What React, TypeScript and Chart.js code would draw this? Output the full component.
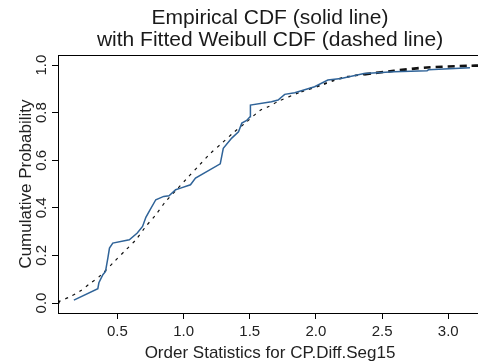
import React, { useEffect, useRef } from "react";
import { Chart, registerables } from "chart.js";

Chart.register(...registerables);

// Empirical CDF (solid line)
const empX = [0.171, 0.352, 0.36, 0.39, 0.41, 0.428, 0.44, 0.465, 0.59, 0.65, 0.69, 0.715, 0.74, 0.79, 0.85, 0.89, 0.94, 0.977, 1.052, 1.09, 1.277, 1.30, 1.364, 1.415, 1.44, 1.477, 1.502, 1.505, 1.664, 1.714, 1.764, 1.84, 1.99, 2.09, 2.19, 2.364, 2.464, 2.589, 2.84, 2.85, 3.164];
const empY = [0.012, 0.060, 0.085, 0.119, 0.133, 0.19, 0.231, 0.252, 0.266, 0.294, 0.322, 0.36, 0.385, 0.434, 0.448, 0.451, 0.476, 0.483, 0.497, 0.525, 0.585, 0.65, 0.693, 0.72, 0.756, 0.767, 0.783, 0.832, 0.846, 0.853, 0.877, 0.884, 0.909, 0.937, 0.944, 0.965, 0.968, 0.972, 0.976, 0.98, 0.989];

// Fitted Weibull CDF (dashed line)
const fitX = [0.05, 0.14, 0.215, 0.30, 0.365, 0.478, 0.565, 0.64, 0.715, 0.79, 0.865, 0.95, 1.027, 1.115, 1.2, 1.29, 1.377, 1.465, 1.58, 1.64, 1.71, 1.89, 2.04, 2.14, 2.24, 2.364, 2.59, 2.84, 3.16, 3.25];
const fitY = [0.004, 0.026, 0.049, 0.085, 0.112, 0.175, 0.224, 0.266, 0.322, 0.371, 0.427, 0.478, 0.525, 0.577, 0.627, 0.672, 0.716, 0.756, 0.81, 0.825, 0.846, 0.888, 0.916, 0.937, 0.951, 0.961, 0.976, 0.99, 0.997, 0.998];

const xTicks = [0.5, 1.0, 1.5, 2.0, 2.5, 3.0];
const yTicks = [0.0, 0.2, 0.4, 0.6, 0.8, 1.0];

const titleLines = ["Empirical CDF (solid line)", "with Fitted Weibull CDF (dashed line)"];
const xTitle = "Order Statistics for CP.Diff.Seg15";
const yTitle = "Cumulative Probability";

const FONT = "'Liberation Sans', Arial, sans-serif";

const topFrame = {
  id: "topFrame",
  afterDraw(chart: any) {
    const { ctx, chartArea } = chart;
    ctx.save();
    ctx.strokeStyle = "#000";
    ctx.lineWidth = 1;
    ctx.beginPath();
    ctx.moveTo(chartArea.left, Math.round(chartArea.top) + 0.5);
    ctx.lineTo(chartArea.right, Math.round(chartArea.top) + 0.5);
    ctx.stroke();
    ctx.restore();
  },
};

export default function App() {
  const ref = useRef<HTMLCanvasElement | null>(null);

  useEffect(() => {
    document.body.style.margin = "0";
    const canvas = ref.current!;
    const chart = new Chart(canvas, {
      type: "line",
      data: {
        datasets: [
          {
            label: "Empirical CDF",
            data: empX.map((x, i) => ({ x, y: empY[i] })),
            borderColor: "#2f6398",
            borderWidth: 1.5,
            pointRadius: 0,
            fill: false,
            tension: 0,
          },
          {
            label: "Fitted Weibull CDF",
            data: fitX.map((x, i) => ({ x, y: fitY[i] })),
            borderColor: "#111",
            borderWidth: 1.2,
            borderDash: [3, 5],
            pointRadius: (c: any) => (c.dataIndex === 0 ? 2 : 0),
            pointBackgroundColor: "#000",
            pointBorderWidth: 0,
            fill: false,
            tension: 0.3,
            segment: {
              borderWidth: (c: any) => (c.p0.parsed.x > 2.3 ? 2.6 : c.p0.parsed.x > 1.8 ? 1.8 : 1.2),
              borderDash: (c: any) => (c.p0.parsed.x > 2.3 ? [7, 5] : [3, 5]),
            },
          },
        ],
      },
      options: {
        animation: false,
        responsive: false,
        layout: { padding: 0 },
        plugins: {
          legend: { display: false },
          tooltip: { enabled: false },
          title: {
            display: true,
            text: titleLines,
            fullSize: false,
            color: "#1a1a1a",
            font: { family: FONT, size: 21, weight: "normal", lineHeight: 1.05 },
            padding: { top: 7, bottom: 4 },
          },
        },
        scales: {
          x: {
            type: "linear",
            min: 0.051,
            max: 3.255,
            afterBuildTicks: (s: any) => {
              s.ticks = xTicks.map((v) => ({ value: v }));
            },
            afterFit: (s: any) => {
              s.height = 51;
            },
            grid: { display: true, drawOnChartArea: false, drawTicks: true, tickLength: 6, color: "#000" },
            border: { display: true, color: "#000", width: 1 },
            ticks: {
              color: "#222",
              font: { family: FONT, size: 15 },
              padding: 4,
              maxRotation: 0,
              autoSkip: false,
              callback: (v: any) => Number(v).toFixed(1),
            },
            title: {
              display: true,
              text: xTitle,
              color: "#222",
              font: { family: FONT, size: 17 },
              padding: { top: 0, bottom: 0 },
            },
          },
          y: {
            type: "linear",
            min: -0.042,
            max: 1.042,
            afterBuildTicks: (s: any) => {
              s.ticks = yTicks.map((v) => ({ value: v }));
            },
            afterFit: (s: any) => {
              s.width = 58;
            },
            grid: { display: true, drawOnChartArea: false, drawTicks: true, tickLength: 6, color: "#000" },
            border: { display: true, color: "#000", width: 1 },
            ticks: {
              color: "#222",
              font: { family: FONT, size: 15 },
              padding: 0,
              minRotation: 90,
              maxRotation: 90,
              crossAlign: "center",
              autoSkip: false,
              callback: (v: any) => Number(v).toFixed(1),
            },
            title: {
              display: true,
              text: yTitle,
              color: "#222",
              font: { family: FONT, size: 17 },
              padding: { top: 16, bottom: 0 },
            },
          },
        },
      },
      plugins: [topFrame],
    } as any);
    return () => chart.destroy();
  }, []);

  return (
    <div style={{ position: "absolute", left: 0, top: 0, width: 478, height: 364, overflow: "hidden", background: "#fff" }}>
      <canvas ref={ref} width={486} height={364} style={{ display: "block", width: 486, height: 364 }} />
    </div>
  );
}
